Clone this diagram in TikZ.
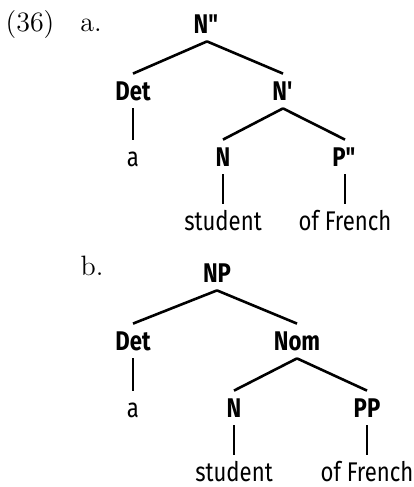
\documentclass[tikz,border=0pt]{standalone}
\usepackage{fontspec}
\newfontfamily\treefont{Fira Sans}[FakeStretch=0.82]
\tikzset{
  cat/.style={font=\treefont\bfseries\fontsize{13.5}{15}\selectfont,anchor=base,inner sep=4pt,text height=9pt,text depth=0pt},
  word/.style={font=\treefont\fontsize{13.5}{15}\selectfont,anchor=base,inner sep=4pt,text height=9pt,text depth=0pt},
  exlabel/.style={font=\fontsize{14}{16}\selectfont,anchor=base},
  branch/.style={line width=1.3pt}
}

\begin{document}
\begin{tikzpicture}[x=0.5pt,y=-0.5pt]
  \useasboundingbox (0,0) rectangle (413,487);
  % (36a)
  \node[exlabel] (num) at (30,32){(36)};
  \node[exlabel] (lab-a) at (91,32){a.};
  \node[cat] (a-top) at (207,33){N\textquotedbl};
  \node[cat] (a-det) at (133,100){Det};
  \node[cat] (a-bar) at (283,100){N\textquotesingle};
  \node[word] (a-art) at (133,166){a};
  \node[cat] (a-n) at (223,166){N};
  \node[cat] (a-pp) at (345,166){P\textquotedbl};
  \node[word] (a-noun) at (223,230){student};
  \node[word] (a-comp) at (345,230){of French};
  \draw[branch] (a-top.south) -- (a-det.north);
  \draw[branch] (a-top.south) -- (a-bar.north);
  \draw[branch] (a-det.south) -- (a-art.north);
  \draw[branch] (a-bar.south) -- (a-n.north);
  \draw[branch] (a-bar.south) -- (a-pp.north);
  \draw[branch] (a-n.south) -- (a-noun.north);
  \draw[branch] (a-pp.south) -- (a-comp.north);
  % (36b)
  \node[exlabel] (lab-b) at (92,275){b.};
  \node[cat] (b-top) at (217,282){NP};
  \node[cat] (b-det) at (133,350){Det};
  \node[cat] (b-nom) at (297,350){Nom};
  \node[word] (b-art) at (133,417){a};
  \node[cat] (b-n) at (234,417){N};
  \node[cat] (b-pp) at (367,417){PP};
  \node[word] (b-noun) at (234,481){student};
  \node[word] (b-comp) at (367,481){of French};
  \draw[branch] (b-top.south) -- (b-det.north);
  \draw[branch] (b-top.south) -- (b-nom.north);
  \draw[branch] (b-det.south) -- (b-art.north);
  \draw[branch] (b-nom.south) -- (b-n.north);
  \draw[branch] (b-nom.south) -- (b-pp.north);
  \draw[branch] (b-n.south) -- (b-noun.north);
  \draw[branch] (b-pp.south) -- (b-comp.north);
\end{tikzpicture}
\end{document}
